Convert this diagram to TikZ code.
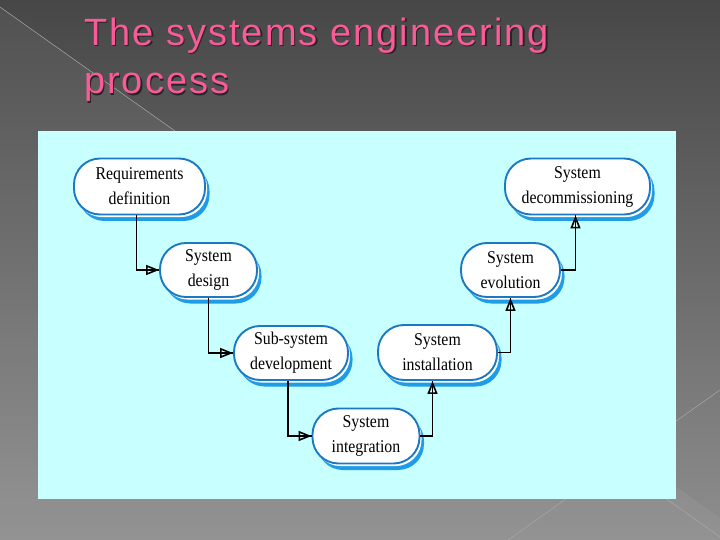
\documentclass[tikz,border=0pt]{standalone}
\usepackage{fontspec}
\setmainfont{Liberation Serif}
\newfontfamily\titlefont[LetterSpace=5.3]{Liberation Sans}
\newfontfamily\boxfont[FakeStretch=0.88]{Liberation Serif}
\usetikzlibrary{arrows.meta,shadows}
\definecolor{bgtop}{HTML}{474747}
\definecolor{bgbot}{HTML}{8E8E8E}
\definecolor{panel}{HTML}{C8FFFF}
\definecolor{boxline}{HTML}{1B78C2}
\definecolor{shadowblue}{HTML}{1E9CE6}
\definecolor{titlepink}{HTML}{FA5A98}
\definecolor{titleshadow}{HTML}{262626}
\definecolor{streak}{HTML}{A8A8A8}
\begin{document}
\begin{tikzpicture}[x=1pt,y=-1pt,
  stage/.style={draw=boxline, line width=1.9pt, fill=white, rounded corners=26pt,
    inner sep=0pt, align=center, font=\boxfont\fontsize{18}{25}\selectfont,
    general shadow={fill=shadowblue, draw=none, shadow xshift=4.5pt, shadow yshift=-6.5pt},
    general shadow={fill=white, draw=none, shadow xshift=2pt, shadow yshift=-2.6pt}},
  flow/.style={draw=black, line width=1.9pt,
    -{Triangle[open, length=13pt, width=10pt, line width=1.6pt]},
    preaction={draw=black, line width=1.9pt, arrows=-}},
  titletext/.style={font=\titlefont\fontsize{38}{38}\selectfont, anchor=base west, inner sep=0pt},
  streakline/.style={draw=streak, line width=0.5pt}]
\useasboundingbox (0,0) rectangle (720,540);
% background
\shade[top color=bgtop, bottom color=bgbot] (0,0) rectangle (720,540);
\fill[white, opacity=0.05] (0,7) -- (751,540) -- (0,540) -- cycle;
\draw[streakline] (0,7) -- (175,131);
\draw[streakline] (508,540) -- (720,390);
\draw[streakline] (640,480) -- (720,537);
% title
\node[titletext, text=titleshadow] (t1s) at (85.5,47) {The systems engineering};
\node[titletext, text=titlepink] (t1) at (84,45.5) {The systems engineering};
\node[titletext, text=titleshadow] (t2s) at (85.5,95.5) {process};
\node[titletext, text=titlepink] (t2) at (84,94) {process};
% panel
\fill[panel] (38,131) rectangle (676,499);
% stages
\node[stage, minimum width=131pt, minimum height=56pt] (req) at (139.5,186.5) {Requirements\\definition};
\node[stage, minimum width=97pt, minimum height=54pt] (design) at (208.5,270) {System\\design};
\node[stage, minimum width=114pt, minimum height=54pt] (sub) at (291,353) {Sub-system\\development};
\node[stage, minimum width=107pt, minimum height=55pt] (integ) at (366,436) {System\\integration};
\node[stage, minimum width=119pt, minimum height=55pt] (install) at (437.5,352.5) {System\\installation};
\node[stage, minimum width=99pt, minimum height=54pt] (evo) at (510.5,270) {System\\evolution};
\node[stage, minimum width=145pt, minimum height=56pt] (decom) at (577.5,186.5) {System\\decommissioning};
% flows
\draw[flow] ([xshift=-3pt]req.south) |- (design.west);
\draw[flow] (design.south) |- (sub.west);
\draw[flow] ([xshift=-3pt]sub.south) |- (integ.west);
\draw[flow] (integ.east) -| ([xshift=-5pt]install.south);
\draw[flow] (install.east) -| (evo.south);
\draw[flow] (evo.east) -| ([xshift=-2pt]decom.south);
\end{tikzpicture}
\end{document}
